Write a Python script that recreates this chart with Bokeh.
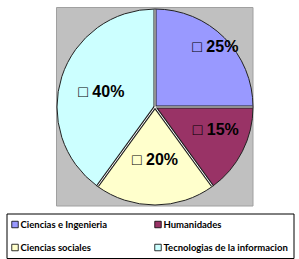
import numpy as np
from bokeh.plotting import figure
from bokeh.models import Range1d
from bokeh.core.properties import value
from bokeh.embed import file_html
from bokeh.resources import INLINE

categories = ["Ciencias e Ingenieria", "Humanidades", "Ciencias sociales", "Tecnologias de la informacion"]
values = [25, 15, 20, 40]
colors = ["#9999FF", "#993366", "#FFFFCC", "#CCFFFF"]
pct_labels = ["\u25a1 25%", "\u25a1 15%", "\u25a1 20%", "\u25a1 40%"]

W, H = 299, 259
p = figure(width=W, height=H, output_backend="svg", toolbar_location=None,
           x_range=Range1d(0, W), y_range=Range1d(0, H), min_border=0,
           background_fill_color="white", border_fill_color="white")
p.axis.visible = False
p.grid.visible = False
p.outline_line_color = None

def Y(y):
    return H - y

# plot area
p.quad(left=56, right=252.5, top=Y(7), bottom=Y(205.5), fill_color="#C0C0C0",
       line_color="#A0A0A0", line_width=1)

cx, cy, R = 154.5, Y(106.5), 98
vals = np.array(values, dtype=float)
frac = vals / vals.sum()
cum = np.concatenate([[0], np.cumsum(frac)])
start = np.pi / 2 - cum[1:] * 2 * np.pi
end = np.pi / 2 - cum[:-1] * 2 * np.pi
p.wedge(x=cx, y=cy, radius=R, start_angle=start, end_angle=end,
        fill_color=colors, line_color="#222222", line_width=1)

# slice separators
ang = np.pi / 2 - cum[:-1] * 2 * np.pi
x1 = cx + (R - 0.5) * np.cos(ang)
y1 = cy + (R - 0.5) * np.sin(ang)
p.segment(x0=[cx] * len(ang), y0=[cy] * len(ang), x1=x1, y1=y1, line_color="#222222", line_width=3)
p.segment(x0=[cx] * len(ang), y0=[cy] * len(ang), x1=x1, y1=y1, line_color="white", line_width=1)

# labels
label_r = [0.87, 0.66, 0.54, 0.57]
label_dang = np.radians([0, 7, 0, 2])
mid = np.pi / 2 - (cum[:-1] + frac / 2) * 2 * np.pi + label_dang
lx = cx + np.array(label_r) * R * np.cos(mid)
ly = cy + np.array(label_r) * R * np.sin(mid)
p.text(x=lx, y=ly, text=pct_labels, text_font=value("Liberation Sans"),
       text_font_style="bold", text_font_size="16px", text_align="center",
       text_baseline="middle", text_color="black")

# legend
p.quad(left=6.5, right=293.5, top=Y(213.5), bottom=Y(258), fill_color="white",
       line_color="black", line_width=1)
lgx = [11, 154, 11, 154]
lgy = [224, 224, 247, 247]
p.rect(x=[x + 3.5 for x in lgx], y=[Y(y) for y in lgy], width=6.5, height=6.5,
       fill_color=colors, line_color="black", line_width=0.8)
p.text(x=[x + 9 for x in lgx], y=[Y(y) for y in lgy], text=categories,
       text_font=value("Lato"), text_font_style="bold", text_font_size="9.5px",
       text_align="left", text_baseline="middle", text_color="black")

open("out.html", "w").write(file_html(p, INLINE))
